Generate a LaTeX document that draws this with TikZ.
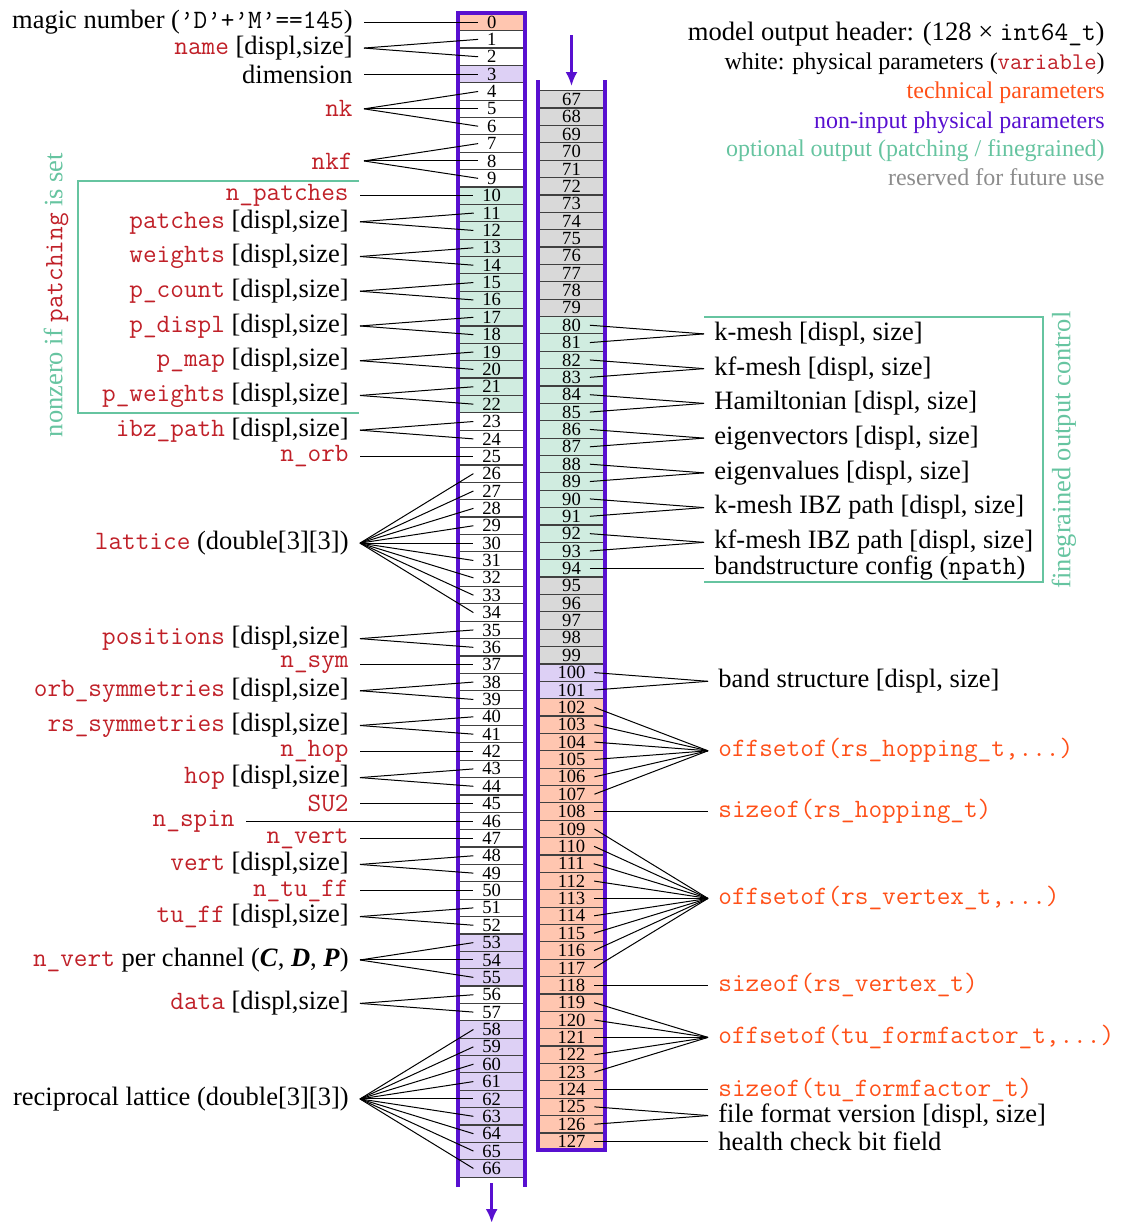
\documentclass[tikz,border=0pt]{standalone}
\usepackage{fontspec}
\setmainfont{Liberation Serif}
\usetikzlibrary{arrows.meta}
\definecolor{salm}{RGB}{255,198,176}
\definecolor{lav}{RGB}{221,208,245}
\definecolor{mint}{RGB}{208,236,224}
\definecolor{grayc}{RGB}{217,217,217}
\definecolor{purp}{RGB}{88,16,208}
\definecolor{orng}{RGB}{255,80,24}
\definecolor{grn}{RGB}{102,196,160}
\definecolor{codered}{RGB}{192,32,40}
\definecolor{lgray}{RGB}{140,140,140}
\newcommand{\rc}[1]{\textcolor{codered}{\texttt{#1}}}
\newcommand{\oc}[1]{\textcolor{orng}{\texttt{#1}}}
\begin{document}
\begin{tikzpicture}[x=0.5pt,y=-0.5pt,
  lbl/.style={font=\fontsize{13.25}{15}\selectfont, inner xsep=5.5pt, inner ysep=0pt, anchor=east},
  rlbl/.style={font=\fontsize{13.25}{15}\selectfont, inner xsep=5pt, inner ysep=0pt, anchor=west},
  num/.style={font=\fontsize{9.3}{10}\selectfont, inner xsep=4.3pt, inner ysep=0pt},
  con/.style={line width=0.5pt, black},
  sepline/.style={line width=0.6pt, black!75},
  purpframe/.style={line width=2pt, purp},
  parr/.style={line width=1.3pt, purp, -{Latex[length=7pt,width=6pt]}},
  grp/.style={line width=1pt, grn},
  leg/.style={anchor=base east, inner sep=0pt, font=\fontsize{12}{14}\selectfont}]
\useasboundingbox (0,0) rectangle (1126,1222);

% cell fills
\foreach \a/\b/\c in {0/0/salm,3/3/lav,10/22/mint,53/55/lav,58/66/lav}
  \fill[\c] (458,{13.3+17.37*\a}) rectangle (525.3,{13.3+17.37*(\b+1)});
\foreach \a/\b/\c in {67/79/grayc,80/94/mint,95/99/grayc,100/101/lav,102/127/salm}
  \fill[\c] (537.7,{90.7+17.37*(\a-67)}) rectangle (605.3,{90.7+17.37*(\b-66)});

% separators
\foreach \i in {1,...,67}
  \draw[sepline] (458,{13.3+17.37*\i}) -- (525.3,{13.3+17.37*\i});
\foreach \j in {0,...,60}
  \draw[sepline] (537.7,{90.7+17.37*\j}) -- (605.3,{90.7+17.37*\j});

% numbers
\foreach \i in {0,...,66}
  \node[num] (n\i) at (491.7,{22+17.37*\i}) {\i};
\foreach \j in {67,...,127}
  \node[num] (n\j) at (571.5,{99.4+17.37*(\j-67)}) {\j};

% frames
\draw[purpframe] (458,1187) -- (458,13.3) -- (525.3,13.3) -- (525.3,1187);
\draw[purpframe] (537.7,80) -- (537.7,1150.3) -- (605.3,1150.3) -- (605.3,80);

% arrows
\coordinate (topA) at (571.5,35);
\coordinate (topB) at (571.5,86);
\draw[parr] (topA) -- (topB);
\coordinate (botA) at (491.7,1183);
\coordinate (botB) at (491.7,1223);
\draw[parr] (botA) -- (botB);

% group brackets
\draw[grp] (359,180.7) -- (78.3,180.7) -- (78.3,413.3) -- (359,413.3);
\draw[grp] (704,317.3) -- (1043.3,317.3) -- (1043.3,581.7) -- (704,581.7);
\node[rotate=90, text=grn, inner sep=0pt, font=\fontsize{13.25}{15}\selectfont] (rotL) at (56,295) {nonzero if \rc{patching} is set};
\node[rotate=90, text=grn, inner sep=0pt, font=\fontsize{13.25}{15}\selectfont] (rotR) at (1064,450) {finegrained output control};

% legend
\node[leg, font=\fontsize{13.3}{15}\selectfont] (g1) at (1105,40) {model output header: (128 × \texttt{int64\_t})};
\node[leg] (g2) at (1105,69) {white: physical parameters (\rc{variable})};
\node[leg, text=orng] (g3) at (1105,98.3) {technical parameters};
\node[leg, text=purp] (g4) at (1105,128.3) {non-input physical parameters};
\node[leg, text=grn] (g5) at (1105,156.7) {optional output (patching / finegrained)};
\node[leg, text=lgray] (g6) at (1105,185.7) {reserved for future use};

% left labels
\node[lbl] (Lmagic) at (364,22) {magic number (\texttt{’D’+’M’==145})};
\node[lbl] (Lname) at (364,{22+17.37*1.5}) {\rc{name} [displ,size]};
\node[lbl] (Ldim) at (364,{22+17.37*3}) {dimension};
\node[lbl] (Lnk) at (364,{22+17.37*5}) {\rc{nk}};
\node[lbl] (Lnkf) at (364,{22+17.37*8}) {\rc{nkf}};
\node[lbl] (Lnp) at (360,{22+17.37*10}) {\rc{n\_patches}};
\node[lbl] (Lpat) at (360,{22+17.37*11.5}) {\rc{patches} [displ,size]};
\node[lbl] (Lwei) at (360,{22+17.37*13.5}) {\rc{weights} [displ,size]};
\node[lbl] (Lpc) at (360,{22+17.37*15.5}) {\rc{p\_count} [displ,size]};
\node[lbl] (Lpd) at (360,{22+17.37*17.5}) {\rc{p\_displ} [displ,size]};
\node[lbl] (Lpm) at (360,{22+17.37*19.5}) {\rc{p\_map} [displ,size]};
\node[lbl] (Lpw) at (360,{22+17.37*21.5}) {\rc{p\_weights} [displ,size]};
\node[lbl] (Libz) at (360,{22+17.37*23.5}) {\rc{ibz\_path} [displ,size]};
\node[lbl] (Lnorb) at (360,{22+17.37*25}) {\rc{n\_orb}};
\node[lbl] (Llat) at (360,{22+17.37*30}) {\rc{lattice} (double[3][3])};
\node[lbl] (Lpos) at (360,{22+17.37*35.5}) {\rc{positions} [displ,size]};
\node[lbl] (Lnsym) at (360,{22+17.37*37}) {\rc{n\_sym}};
\node[lbl] (Lorb) at (360,{22+17.37*38.5}) {\rc{orb\_symmetries} [displ,size]};
\node[lbl] (Lrs) at (360,{22+17.37*40.5}) {\rc{rs\_symmetries} [displ,size]};
\node[lbl] (Lnhop) at (360,{22+17.37*42}) {\rc{n\_hop}};
\node[lbl] (Lhop) at (360,{22+17.37*43.5}) {\rc{hop} [displ,size]};
\node[lbl] (Lsu) at (360,{22+17.37*45}) {\rc{SU2}};
\node[lbl] (Lnspin) at (246,{22+17.37*46}) {\rc{n\_spin}};
\node[lbl] (Lnvert) at (360,{22+17.37*47}) {\rc{n\_vert}};
\node[lbl] (Lvert) at (360,{22+17.37*48.5}) {\rc{vert} [displ,size]};
\node[lbl] (Lntuff) at (360,{22+17.37*50}) {\rc{n\_tu\_ff}};
\node[lbl] (Ltuff) at (360,{22+17.37*51.5}) {\rc{tu\_ff} [displ,size]};
\node[lbl] (Lnvc) at (360,{22+17.37*54}) {\rc{n\_vert} per channel (\textbf{\textit{C}}, \textbf{\textit{D}}, \textbf{\textit{P}})};
\node[lbl] (Ldata) at (360,{22+17.37*56.5}) {\rc{data} [displ,size]};
\node[lbl] (Lrec) at (360,{22+17.37*62}) {reciprocal lattice (double[3][3])};

\foreach \L/\ks in {Lmagic/{0},Lname/{1,2},Ldim/{3},Lnk/{4,5,6},Lnkf/{7,8,9},
  Lnp/{10},Lpat/{11,12},Lwei/{13,14},Lpc/{15,16},Lpd/{17,18},Lpm/{19,20},Lpw/{21,22},
  Libz/{23,24},Lnorb/{25},Llat/{26,...,34},Lpos/{35,36},Lnsym/{37},Lorb/{38,39},
  Lrs/{40,41},Lnhop/{42},Lhop/{43,44},Lsu/{45},Lnspin/{46},Lnvert/{47},Lvert/{48,49},
  Lntuff/{50},Ltuff/{51,52},Lnvc/{53,54,55},Ldata/{56,57},Lrec/{58,...,66}}
  \foreach \k in \ks \draw[con] (\L.east) -- (n\k.west);

% right labels
\node[rlbl] (Rkm) at (704,{99.4+17.37*13.5}) {k-mesh [displ, size]};
\node[rlbl] (Rkfm) at (704,{99.4+17.37*15.5}) {kf-mesh [displ, size]};
\node[rlbl] (Rham) at (704,{99.4+17.37*17.5}) {Hamiltonian [displ, size]};
\node[rlbl] (Revec) at (704,{99.4+17.37*19.5}) {eigenvectors [displ, size]};
\node[rlbl] (Reval) at (704,{99.4+17.37*21.5}) {eigenvalues [displ, size]};
\node[rlbl] (Rkibz) at (704,{99.4+17.37*23.5}) {k-mesh IBZ path [displ, size]};
\node[rlbl] (Rkfibz) at (704,{99.4+17.37*25.5}) {kf-mesh IBZ path [displ, size]};
\node[rlbl] (Rbs) at (704,{99.4+17.37*27}) {bandstructure config (\texttt{npath})};
\node[rlbl] (Rband) at (708,{99.4+17.37*33.5}) {band structure [displ, size]};
\node[rlbl] (Roh) at (708,{99.4+17.37*37.5}) {\oc{offsetof(rs\_hopping\_t,...)}};
\node[rlbl] (Rsh) at (708,{99.4+17.37*41}) {\oc{sizeof(rs\_hopping\_t)}};
\node[rlbl] (Rov) at (708,{99.4+17.37*46}) {\oc{offsetof(rs\_vertex\_t,...)}};
\node[rlbl] (Rsv) at (708,{99.4+17.37*51}) {\oc{sizeof(rs\_vertex\_t)}};
\node[rlbl] (Rof) at (708,{99.4+17.37*54}) {\oc{offsetof(tu\_formfactor\_t,...)}};
\node[rlbl] (Rsf) at (708,{99.4+17.37*57}) {\oc{sizeof(tu\_formfactor\_t)}};
\node[rlbl] (Rffv) at (708,{99.4+17.37*58.5}) {file format version [displ, size]};
\node[rlbl] (Rhc) at (708,{99.4+17.37*60}) {health check bit field};

\foreach \R/\ks in {Rkm/{80,81},Rkfm/{82,83},Rham/{84,85},Revec/{86,87},Reval/{88,89},
  Rkibz/{90,91},Rkfibz/{92,93},Rbs/{94},Rband/{100,101},Roh/{102,...,107},Rsh/{108},
  Rov/{109,...,117},Rsv/{118},Rof/{119,...,123},Rsf/{124},Rffv/{125,126},Rhc/{127}}
  \foreach \k in \ks \draw[con] (n\k.east) -- (\R.west);
\end{tikzpicture}
\end{document}
